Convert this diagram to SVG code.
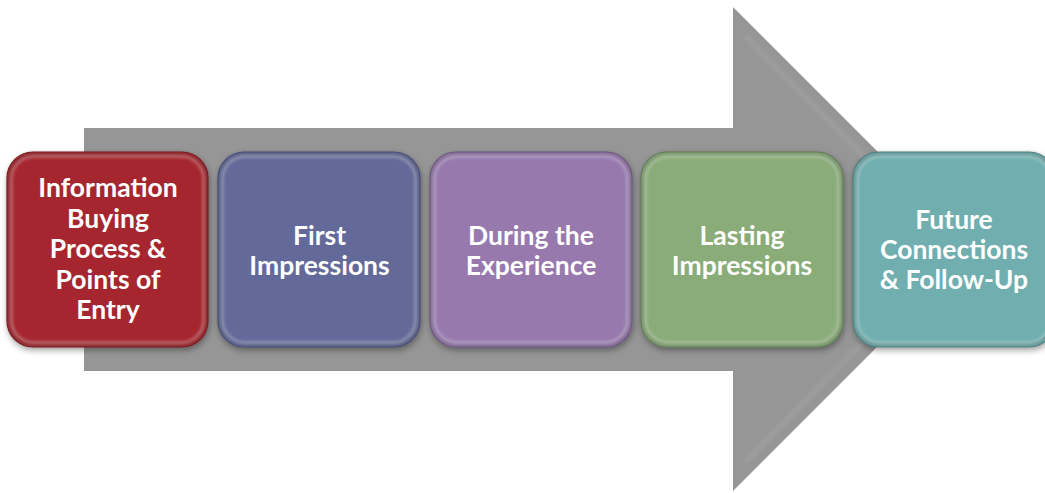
<svg xmlns="http://www.w3.org/2000/svg" width="1045" height="493" viewBox="0 0 1045 493">
  <defs>
    <filter id="shadow" x="-10%" y="-10%" width="125%" height="130%">
      <feDropShadow dx="1" dy="3" stdDeviation="3" flood-color="#000" flood-opacity="0.35"/>
    </filter>
    <filter id="soft" x="-5%" y="-5%" width="110%" height="110%">
      <feGaussianBlur stdDeviation="1.5"/>
    </filter>
    <style>
      .box { stroke-width: 1.2; filter: url(#shadow); }
      .bevel { fill: none; stroke: #ffffff; stroke-opacity: 0.35; stroke-width: 3; filter: url(#soft); }
      .edge { fill: none; stroke: #000000; stroke-opacity: 0.18; stroke-width: 3; filter: url(#soft); }
      .label { font-family: Lato, "Open Sans", "Liberation Sans", sans-serif; font-weight: bold; font-size: 26.5px; fill: #ffffff; text-anchor: middle; }
    </style>
  </defs>

  <!-- Big process arrow in the background -->
  <g id="connectors">
    <polygon points="84,128 733,128 733,7 975,249 733,491 733,371 84,371" fill="#969696"/>
    <polyline points="745,36 955,249 745,462" fill="none" stroke="#a4a4a4" stroke-width="6" stroke-opacity="0.5" filter="url(#soft)"/>
  </g>

  <!-- Stage 1 -->
  <g id="stage-information">
    <rect class="box" x="7" y="152" width="201" height="195" rx="26" fill="#a5282d" stroke="#7d1c20"/>
    <rect class="bevel" x="11" y="156" width="193" height="187" rx="23"/>
    <rect class="edge" x="9" y="154" width="197" height="191" rx="25"/>
    <text class="label" x="108" y="197">Information</text>
    <text class="label" x="108" y="228">Buying</text>
    <text class="label" x="108" y="258">Process &amp;</text>
    <text class="label" x="108" y="289">Points of</text>
    <text class="label" x="108" y="319">Entry</text>
  </g>

  <!-- Stage 2 -->
  <g id="stage-first">
    <rect class="box" x="218" y="152" width="202" height="195" rx="26" fill="#646b99" stroke="#4a5078"/>
    <rect class="bevel" x="222" y="156" width="194" height="187" rx="23"/>
    <rect class="edge" x="220" y="154" width="198" height="191" rx="25"/>
    <text class="label" x="319.5" y="245">First</text>
    <text class="label" x="319.5" y="275">Impressions</text>
  </g>

  <!-- Stage 3 -->
  <g id="stage-during">
    <rect class="box" x="430" y="152" width="202" height="195" rx="26" fill="#9779ae" stroke="#725a86"/>
    <rect class="bevel" x="434" y="156" width="194" height="187" rx="23"/>
    <rect class="edge" x="432" y="154" width="198" height="191" rx="25"/>
    <text class="label" x="531" y="245">During the</text>
    <text class="label" x="531" y="275">Experience</text>
  </g>

  <!-- Stage 4 -->
  <g id="stage-lasting">
    <rect class="box" x="641" y="152" width="202" height="195" rx="26" fill="#89ac78" stroke="#66845a"/>
    <rect class="bevel" x="645" y="156" width="194" height="187" rx="23"/>
    <rect class="edge" x="643" y="154" width="198" height="191" rx="25"/>
    <text class="label" x="742" y="245">Lasting</text>
    <text class="label" x="742" y="275">Impressions</text>
  </g>

  <!-- Stage 5 -->
  <g id="stage-future">
    <rect class="box" x="853" y="152" width="202" height="195" rx="26" fill="#6faeaf" stroke="#518586"/>
    <rect class="bevel" x="857" y="156" width="194" height="187" rx="23"/>
    <rect class="edge" x="855" y="154" width="198" height="191" rx="25"/>
    <text class="label" x="954" y="229">Future</text>
    <text class="label" x="954" y="259">Connections</text>
    <text class="label" x="954" y="289">&amp; Follow-Up</text>
  </g>
</svg>
